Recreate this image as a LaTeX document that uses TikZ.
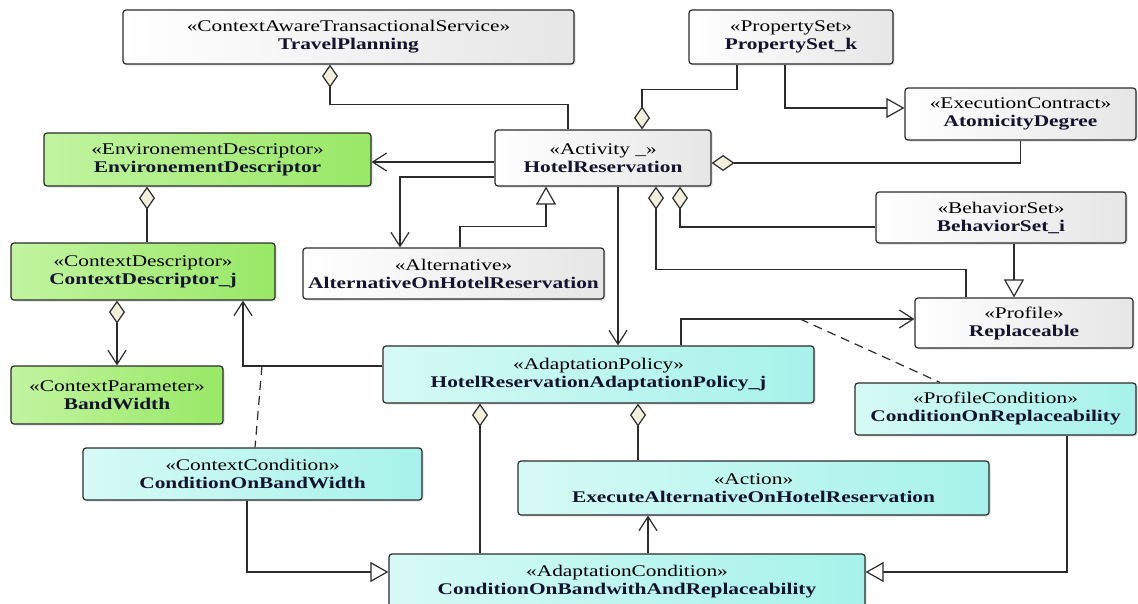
\documentclass[tikz,border=0pt]{standalone}
\usepackage{fontspec}
\setmainfont{Liberation Serif}[FakeStretch=1.31]
\usepackage{tikz}
\usetikzlibrary{positioning}
\usetikzlibrary{arrows.meta,shadows}
\definecolor{lineGray}{HTML}{2B2B2B}
\definecolor{diamondFill}{HTML}{F2F0DC}
\definecolor{grayLight}{HTML}{FFFFFF}
\definecolor{grayDark}{HTML}{E6E6E6}
\definecolor{greenLight}{HTML}{C2F4A0}
\definecolor{greenDark}{HTML}{98E866}
\definecolor{cyanLight}{HTML}{D6FAF5}
\definecolor{cyanDark}{HTML}{A6F2EA}
\definecolor{nameInk}{HTML}{14142E}
\newcommand{\sterename}[2]{«#1»\\{\bfseries\color{nameInk}#2}}
\tikzset{
    umlBox/.style={draw=lineGray, line width=1.2pt, rounded corners=3pt, align=center,
		inner sep=0pt, font=\fontsize{16.3}{18}\selectfont,
		drop shadow={shadow xshift=1.5pt, shadow yshift=-1.5pt, opacity=0.25}},
    plainBox/.style={umlBox, left color=grayLight, right color=grayDark},
    envBox/.style={umlBox, left color=greenLight, right color=greenDark},
    condBox/.style={umlBox, left color=cyanLight, right color=cyanDark}
}
\tikzset{
    link/.style={draw=lineGray, line width=1.2pt},
    agg/.style={link, {Diamond[length=23pt,width=16pt,fill=diamondFill]}-},
    nav/.style={link, -{Straight Barb[length=14pt,width=18pt]}},
    aggNav/.style={link, {Diamond[length=23pt,width=16pt,fill=diamondFill]}-{Straight Barb[length=14pt,width=18pt]}},
    gen/.style={link, -{Triangle[length=18pt,width=20pt,fill=white]}},
    depend/.style={link, dashed, dash pattern=on 9pt off 6pt}
}
\begin{document}
\begin{tikzpicture}[x=1pt,y=-1pt]
	\useasboundingbox (0,0) rectangle (1138,603);
	% classes
	\node[plainBox, minimum width=451pt, minimum height=54pt] (travel) at (348.5,37) {\sterename{ContextAwareTransactionalService}{TravelPlanning}};
	\node[plainBox, minimum width=204pt, minimum height=54pt] (propset) at (791,37) {\sterename{PropertySet}{PropertySet\_k}};
	\node[plainBox, minimum width=231pt, minimum height=52pt] (atomic) at (1020.5,114) {\sterename{ExecutionContract}{AtomicityDegree}};
	\node[plainBox, minimum width=216pt, minimum height=56pt] (hotel) at (603,158) {\sterename{Activity \_}{HotelReservation}};
	\node[envBox, minimum width=327pt, minimum height=53pt] (envdesc) at (207.5,159.5) {\sterename{EnvironementDescriptor}{EnvironementDescriptor}};
	\node[plainBox, minimum width=250pt, minimum height=51pt] (behav) at (1001,217.5) {\sterename{BehaviorSet}{BehaviorSet\_i}};
	\node[envBox, minimum width=264pt, minimum height=57pt] (ctxdesc) at (143,271.5) {\sterename{ContextDescriptor}{ContextDescriptor\_j}};
	\node[plainBox, minimum width=301pt, minimum height=51pt] (altern) at (453.5,273.5) {\sterename{Alternative}{AlternativeOnHotelReservation}};
	\node[plainBox, minimum width=218pt, minimum height=50pt] (replace) at (1024,323) {\sterename{Profile}{Replaceable}};
	\node[envBox, minimum width=212pt, minimum height=58pt] (bandw) at (117,395) {\sterename{ContextParameter}{BandWidth}};
	\node[condBox, minimum width=431pt, minimum height=57pt] (policy) at (598.5,374.5) {\sterename{AdaptationPolicy}{HotelReservationAdaptationPolicy\_j}};
	\node[condBox, minimum width=281pt, minimum height=52pt] (profcond) at (995.5,409) {\sterename{ProfileCondition}{ConditionOnReplaceability}};
	\node[condBox, minimum width=339pt, minimum height=52pt] (ctxcond) at (252.5,474) {\sterename{ContextCondition}{ConditionOnBandWidth}};
	\node[condBox, minimum width=471pt, minimum height=54pt] (action) at (753.5,488) {\sterename{Action}{ExecuteAlternativeOnHotelReservation}};
	\node[condBox, minimum width=476pt, minimum height=56pt] (adcond) at (627,582) {\sterename{AdaptationCondition}{ConditionOnBandwithAndReplaceability}};
	\coordinate (profTap) at (800,319);
	\coordinate (ctxTap) at (262,366);
	% connectors
	\draw[agg] ([xshift=-18.5pt]travel.south) -- ++(0,40) -| ([xshift=-35pt]hotel.north);
	\draw[agg] ([xshift=39pt]hotel.north) -- ++(0,-40) -| ([xshift=-54pt]propset.south);
	\draw[gen] ([xshift=-6pt]propset.south) |- ([yshift=6pt]atomic.west);
	\draw[agg] ([yshift=-5pt]hotel.east) -| (atomic.south);
	\draw[nav] ([yshift=-4pt]hotel.west) -- ([yshift=-4pt]hotel.west -| envdesc.east);
	\draw[nav] ([yshift=-19pt]hotel.west) -| ([xshift=-53.5pt]altern.north);
	\draw[gen] ([xshift=6.5pt]altern.north) -- ++(0,-21) -| ([xshift=-57pt]hotel.south);
	\draw[nav] ([xshift=15pt]hotel.south) -- ([xshift=15pt]hotel.south |- policy.north);
	\draw[agg] ([xshift=53pt]hotel.south) -- ++(0,83) -| ([xshift=-58pt]replace.north);
	\draw[agg] ([xshift=77pt]hotel.south) |- ([yshift=-9.5pt]behav.west);
	\draw[gen] ([xshift=13pt]behav.south) -- ([xshift=13pt]behav.south |- replace.north);
	\draw[nav] ([xshift=82.5pt]policy.north) |- ([yshift=4pt]replace.west);
	\draw[depend] (profTap) -- ([xshift=-55.5pt]profcond.north);
	\draw[nav] ([yshift=8.5pt]policy.west) -| ([xshift=100pt]ctxdesc.south);
	\draw[depend] (ctxTap) -- ([xshift=2.5pt]ctxcond.north);
	\draw[agg] ([xshift=-60.5pt]envdesc.south) -- ([xshift=-60.5pt]envdesc.south |- ctxdesc.north);
	\draw[aggNav] ([xshift=-26pt]ctxdesc.south) -- ([xshift=-26pt]ctxdesc.south |- bandw.north);
	\draw[gen] ([xshift=-5.5pt]ctxcond.south) |- ([yshift=10pt]adcond.west);
	\draw[gen] ([xshift=71.5pt]profcond.south) |- ([yshift=10pt]adcond.east);
	\draw[agg] ([xshift=-118.5pt]policy.south) -- ([xshift=-118.5pt]policy.south |- adcond.north);
	\draw[agg] ([xshift=39.5pt]policy.south) -- ([xshift=39.5pt]policy.south |- action.north);
	\draw[nav] ([xshift=21pt]adcond.north) -- ([xshift=21pt]adcond.north |- action.south);
\end{tikzpicture}
\end{document}
